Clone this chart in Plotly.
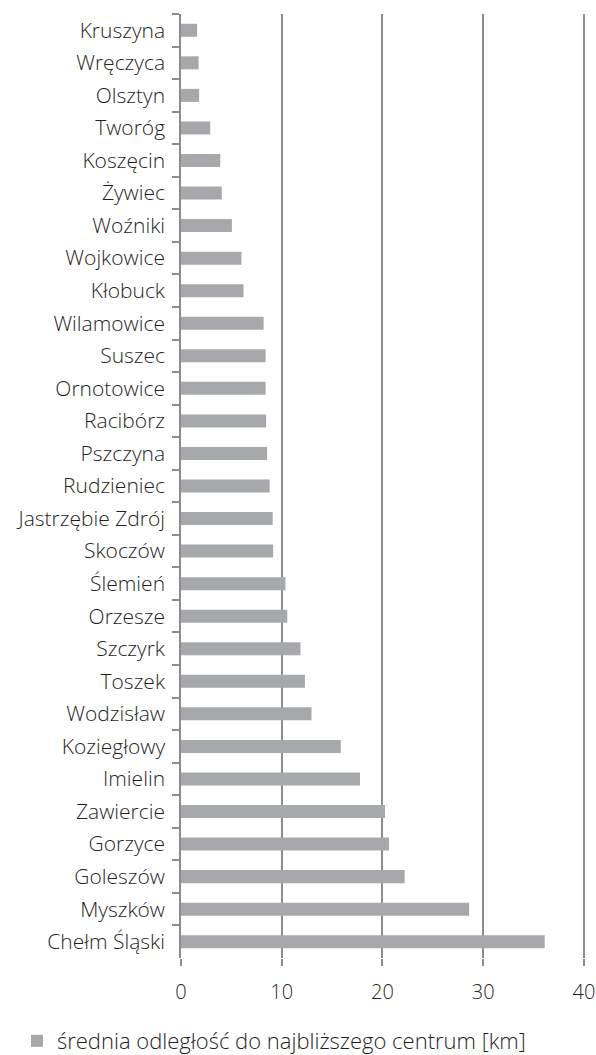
import plotly.graph_objects as go

categories = ["Kruszyna", "Wręczyca", "Olsztyn", "Tworóg", "Koszęcin", "Żywiec", "Woźniki",
              "Wojkowice", "Kłobuck", "Wilamowice", "Suszec", "Ornotowice", "Racibórz",
              "Pszczyna", "Rudzieniec", "Jastrzębie Zdrój", "Skoczów", "Ślemień", "Orzesze",
              "Szczyrk", "Toszek", "Wodzisław", "Koziegłowy", "Imielin", "Zawiercie",
              "Gorzyce", "Goleszów", "Myszków", "Chełm Śląski"]
values = [1.6, 1.75, 1.8, 2.9, 3.9, 4.05, 5.05, 6.0, 6.2, 8.2, 8.4, 8.4, 8.45, 8.55, 8.8,
          9.1, 9.15, 10.37, 10.55, 11.86, 12.3, 12.95, 15.86, 17.77, 20.25, 20.65, 22.2,
          28.6, 36.1]
series_name = "średnia odległość do najbliższego centrum [km]"
x_ticks = [0, 10, 20, 30, 40]

fig = go.Figure()
fig.add_trace(go.Bar(
    y=categories, x=values, orientation="h", name=series_name,
    marker=dict(color="#a7a8ab", line=dict(width=0)),
    showlegend=True,
))

font_family = "Open Sans, Lato, sans-serif"
txt = "#1f1f1f"
fig.update_layout(
    width=596, height=1055,
    margin=dict(l=181, r=10, t=14, b=97, autoexpand=False),
    paper_bgcolor="white", plot_bgcolor="white",
    bargap=0.6,
    font=dict(family=font_family, size=21, color=txt, weight=300),
    showlegend=True,
    legend=dict(orientation="h", x=-0.405, xanchor="left", y=-0.088, yanchor="middle",
                font=dict(size=22, color=txt, weight=300), itemwidth=30),
    xaxis=dict(range=[0, 40.2], tickvals=x_ticks, showgrid=True, gridcolor="#8c8c8c",
               gridwidth=1.5, zeroline=False, showline=False, ticks="outside",
               ticklen=7, tickcolor="#8c8c8c", tickwidth=1.5, ticklabelstandoff=9,
               automargin=False,
               tickfont=dict(size=20, color=txt, weight=300)),
    yaxis=dict(autorange="reversed", showline=True, linecolor="#8c8c8c", linewidth=1.5,
               ticks="outside", tickson="boundaries", ticklen=7, tickcolor="#8c8c8c",
               tickwidth=1.5, showgrid=False, ticklabelstandoff=10, automargin=False,
               tickfont=dict(size=21, color=txt, weight=300)),
)

fig.write_html(
    "out.html",
    config={"displayModeBar": False},
    post_script="document.body.style.margin='0';document.documentElement.style.overflow='hidden';",
)
